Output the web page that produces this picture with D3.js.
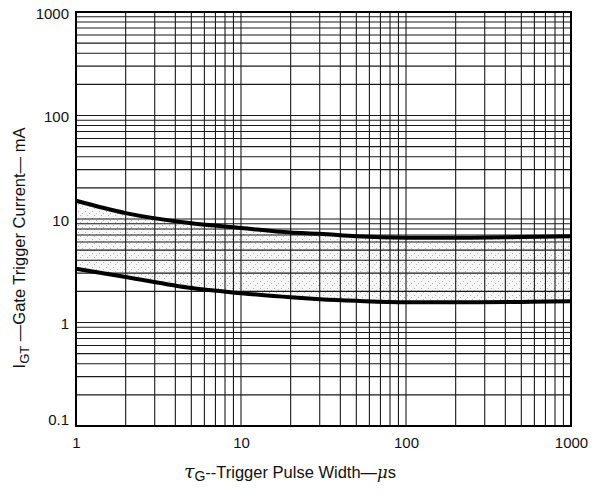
<!DOCTYPE html>
<html><head><meta charset="utf-8">
<script src="https://cdn.jsdelivr.net/npm/d3@7"></script>
<style>body{margin:0;background:#fff}svg{display:block}</style>
</head><body>
<svg id="c" width="595" height="499"></svg>
<script>
// Data
const pulseWidth = [1, 2, 5, 10, 20, 30, 50, 100, 200, 500, 1000];
const upperCurrent = [15, 11.4, 9.1, 8.2, 7.4, 7.2, 6.8, 6.6, 6.6, 6.7, 6.8];
const lowerCurrent = [3.3, 2.75, 2.15, 1.92, 1.75, 1.68, 1.62, 1.57, 1.57, 1.58, 1.6];
const xTickValues = [1, 10, 100, 1000];
const xTickLabels = ["1", "10", "100", "1000"];
const yTickValues = [0.1, 1, 10, 100, 1000];
const yTickLabels = ["0.1", "1", "10", "100", "1000"];

const svg = d3.select("#c");
const L = 76, R = 571, T = 12, B = 426;
const x = d3.scaleLog().domain([1, 1000]).range([L, R]);
const y = d3.scaleLog().domain([0.1, 1000]).range([B, T]);
const font = "'Liberation Sans', Arial, sans-serif";

// stipple pattern
const defs = svg.append("defs");
const pat = defs.append("pattern").attr("id", "stip").attr("patternUnits", "userSpaceOnUse")
  .attr("width", 7).attr("height", 7);
pat.append("rect").attr("width", 7).attr("height", 7).attr("fill", "#f6f6f6");
[[1,1],[5,3],[3,5]].forEach(p => pat.append("rect").attr("x", p[0]).attr("y", p[1])
  .attr("width", 1).attr("height", 1).attr("fill", "#b0b0b0"));

const data = pulseWidth.map((d, i) => ({x: d, hi: upperCurrent[i], lo: lowerCurrent[i]}));

// band
svg.append("path").datum(data)
  .attr("d", d3.area().x(d => x(d.x)).y0(d => y(d.lo)).y1(d => y(d.hi)).curve(d3.curveMonotoneX))
  .attr("fill", "url(#stip)");

// grid
const minorX = [], minorY = [];
for (let e = 0; e < 3; e++) for (let m = 1; m <= 9; m++) minorX.push(m * Math.pow(10, e));
minorX.push(1000);
for (let e = -1; e < 3; e++) for (let m = 1; m <= 9; m++) minorY.push(m * Math.pow(10, e));
minorY.push(1000);

const grid = svg.append("g").attr("stroke", "#1a1a1a").attr("stroke-width", 1.1);
grid.selectAll("line.v").data(minorX).join("line")
  .attr("x1", d => x(d)).attr("x2", d => x(d)).attr("y1", T).attr("y2", B);
grid.selectAll("line.h").data(minorY).join("line")
  .attr("y1", d => y(d)).attr("y2", d => y(d)).attr("x1", L).attr("x2", R);

// curves
const lineHi = d3.line().x(d => x(d.x)).y(d => y(d.hi)).curve(d3.curveMonotoneX);
const lineLo = d3.line().x(d => x(d.x)).y(d => y(d.lo)).curve(d3.curveMonotoneX);
svg.append("path").datum(data).attr("d", lineHi).attr("fill", "none").attr("stroke", "#000").attr("stroke-width", 4);
svg.append("path").datum(data).attr("d", lineLo).attr("fill", "none").attr("stroke", "#000").attr("stroke-width", 4);

// frame
svg.append("rect").attr("x", L).attr("y", T).attr("width", R - L).attr("height", B - T)
  .attr("fill", "none").attr("stroke", "#000").attr("stroke-width", 2);

// axes labels via d3 axes (no lines)
const xAxis = d3.axisBottom(x).tickValues(xTickValues).tickFormat((d, i) => xTickLabels[i]).tickSize(0).tickPadding(11);
const gx = svg.append("g").attr("transform", `translate(0,${B})`).call(xAxis);
gx.select(".domain").remove();
gx.selectAll("text").attr("font-family", font).attr("font-size", 15).attr("fill", "#111");

const yAxis = d3.axisLeft(y).tickValues(yTickValues).tickFormat((d, i) => yTickLabels[i]).tickSize(0).tickPadding(7);
const gy = svg.append("g").attr("transform", `translate(${L},0)`).call(yAxis);
gy.select(".domain").remove();
gy.selectAll("text").attr("font-family", font).attr("font-size", 15).attr("fill", "#111")
  .attr("dy", d => d === 0.1 ? "-0.1em" : "0.4em");

// y title
const yt = svg.append("text").attr("transform", "translate(25,248) rotate(-90)")
  .attr("text-anchor", "middle").attr("font-family", font).attr("font-size", 16.5).attr("fill", "#111");
yt.append("tspan").text("I");
yt.append("tspan").attr("font-size", 13).attr("dy", 4).text("GT");
yt.append("tspan").attr("dy", -4).text(" \u2014Gate Trigger Current\u2014 mA");

// x title
const xt = svg.append("text").attr("x", 290).attr("y", 478)
  .attr("text-anchor", "middle").attr("font-family", font).attr("font-size", 16.5).attr("fill", "#111");
xt.append("tspan").attr("font-family", "'DejaVu Serif', serif").attr("font-style", "italic").attr("font-size", 19).text("\u03C4");
xt.append("tspan").attr("font-size", 14).attr("dy", 3).text("G");
xt.append("tspan").attr("dy", -3).text("--Trigger Pulse Width\u2014");
xt.append("tspan").attr("font-family", "'DejaVu Serif', serif").attr("font-style", "italic").text("\u03BC");
xt.append("tspan").text("s");
</script>
</body></html>
